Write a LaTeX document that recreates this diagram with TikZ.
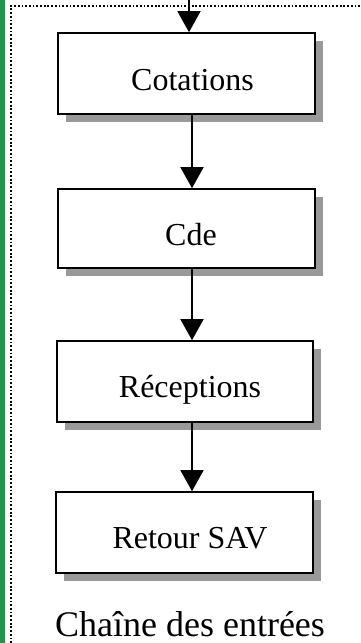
\documentclass[tikz,border=0pt]{standalone}
\usepackage{fontspec}
\setmainfont{Liberation Serif}
\usetikzlibrary{arrows.meta,shadows}
\definecolor{bargreen}{RGB}{33,148,72}
\definecolor{shadowgray}{RGB}{153,153,153}
\begin{document}
\begin{tikzpicture}[x=1pt,y=-1pt,
  procbox/.style={draw=black,line width=1.6pt,fill=white,minimum width=257pt,inner sep=0pt,
    drop shadow={shadow xshift=8pt,shadow yshift=-8pt,fill=shadowgray,opacity=1}},
  boxlabel/.style={font=\fontsize{32}{35}\selectfont,inner sep=0pt,anchor=base},
  flow/.style={line width=1.5pt,-{Triangle[length=21pt,width=23pt]}},
  frame/.style={line width=1.8pt,dash pattern=on 1.8pt off 1.9pt}]
\useasboundingbox (0,0) rectangle (360,643);
% left green bar and dotted frame
\fill[bargreen] (0,0) rectangle (5,643);
\coordinate (fc) at (11,6);
\coordinate (fr) at (360,6);
\coordinate (fb) at (11,643);
\draw[frame] (fr) -- (fc) -- (fb);
% boxes
\node[procbox,minimum height=81pt] (b1) at (186.5,73.5) {};
\node[procbox,minimum height=79pt] (b2) at (186.5,228.5) {};
\node[procbox,minimum height=81pt,minimum width=256pt] (b3) at (185,381.5) {};
\node[procbox,minimum height=81pt] (b4) at (184.5,532.5) {};
% labels
\node[boxlabel] (t1) at (192.5,90.5) {Cotations};
\node[boxlabel] (t2) at (191,245.5) {Cde};
\node[boxlabel] (t3) at (190,397.5) {Réceptions};
\node[boxlabel] (t4) at (190,548.5) {Retour SAV};
\node[font=\fontsize{36}{40}\selectfont,inner sep=0pt,anchor=base] (cap) at (190,636) {Chaîne des entrées};
% connectors
\coordinate (top) at (189,0);
\coordinate (ax) at (192,0);
\draw[flow] (top) -- (b1.north -| top);
\draw[flow] (b1.south -| ax) -- (b2.north -| ax);
\draw[flow] (b2.south -| ax) -- (b3.north -| ax);
\draw[flow] (b3.south -| ax) -- (b4.north -| ax);
\end{tikzpicture}
\end{document}
